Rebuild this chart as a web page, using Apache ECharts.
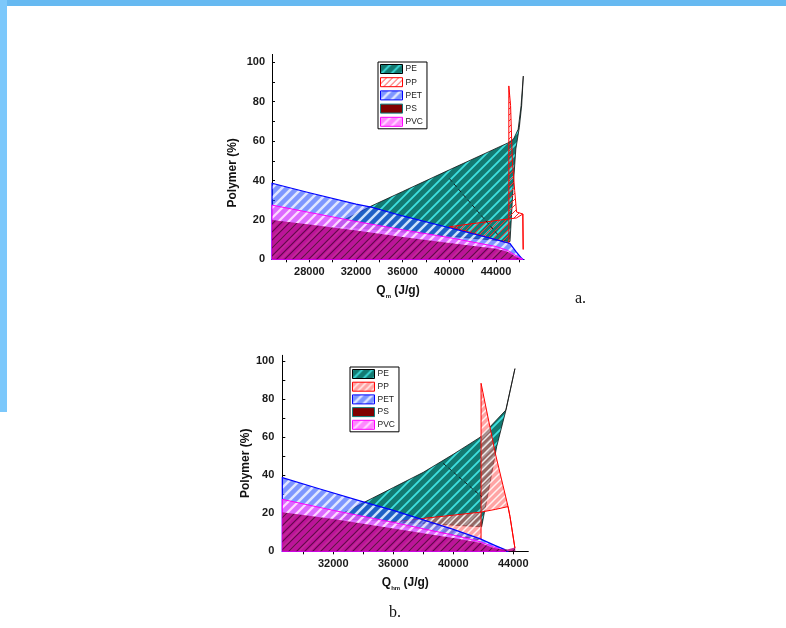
<!DOCTYPE html>
<html>
<head>
<meta charset="utf-8">
<script src="https://cdn.jsdelivr.net/npm/echarts@6/dist/echarts.min.js"></script>
<style>
html, body { margin: 0; padding: 0; background: #fff; }
#chart { width: 786px; height: 628px; }
.topbar { position: absolute; left: 0; top: 0; width: 786px; height: 6px; background: #66b9f1; }
.sidebar { position: absolute; left: 0; top: 0; width: 7px; height: 412px; background: #7cc8fb; }
</style>
</head>
<body>
<div id="chart"></div>
<div class="topbar"></div>
<div class="sidebar"></div>
<script>
// legend order
var names = ['PE', 'PP', 'PET', 'PS', 'PVC'];

// ---- chart a : polygons as [Q, %] points ----
var peA = [[30000,17],[33300,27],[36000,34.4],[40000,45.4],[44000,56.3],[45000,59],[45500,61],[45900,66],[46150,78],[46340,93],
           [46200,78],[46000,67],[45700,56],[45450,35],[45200,9]];
var ppA = [[40000,16.5],[42500,18.5],[45100,20.5],[45100,88],[45250,78],[45400,50],[45600,35],[45760,24],[46300,23],[46330,5],
           [46300,23],[45760,21],[45100,20.5],[45100,8],[42500,12.5]];
var petA = [[24800,38.6],[28000,33.8],[32000,28],[33300,26.5],[36000,22],[40000,16],[44000,10],[45200,8],[45700,4],[46200,0.5],[46300,0],[24800,0]];
var pvcA = [[24800,27.5],[28000,23.8],[32000,19.2],[36000,15],[40000,11],[44000,6.5],[45000,4.5],[45800,1.5],[46300,0],[24800,0]];
var psA = [[24800,20],[28000,17.6],[32000,14.6],[36000,11.3],[40000,8.3],[44000,5.4],[45000,3.8],[45800,1],[46200,0],[24800,0]];
var dashA = [[40000,41],[44300,11.5]];

// ---- chart b ----
var peB = [[32000,17.3],[34000,25.5],[36000,33.5],[38000,41.5],[40000,51],[41800,60],[43500,74.2],[44110,96],
           [43520,74.5],[42890,55],[42400,34],[41890,12.9]];
var ppB = [[35300,14.7],[38000,17.3],[40000,19],[41850,20.6],[41850,88.3],[42800,51.5],[43650,23.5],[43780,18.2],[44110,1.6],
           [43780,18.2],[43650,23.5],[42800,22],[41850,20.6],[41850,5.9],[40000,8.5],[38000,11.5]];
var petB = [[28600,38.7],[31000,33],[34000,26],[36000,21.5],[38000,16.5],[40000,11.5],[41800,6.5],[42800,3],[43400,1],[43600,0],[28600,0]];
var pvcB = [[28600,27.3],[32000,21.5],[36000,15.2],[40000,8.5],[41800,5],[42800,2],[43300,0.5],[43500,0],[28600,0]];
var psB = [[28600,20.5],[32000,17],[36000,12],[40000,7],[41800,4.5],[42450,2.4],[43000,1.2],[43600,1],[44100,2],[44150,0],[28600,0]];
var dashB = [[39330,46.2],[41890,28.7]];

// ticks
var xLabelsA = [28000, 32000, 36000, 40000, 44000];
var xTicksA = [26000, 28000, 30000, 32000, 34000, 36000, 38000, 40000, 42000, 44000, 46000];
var xLabelsB = [32000, 36000, 40000, 44000];
var xTicksB = [30000, 32000, 34000, 36000, 38000, 40000, 42000, 44000];
var yLabels = [0, 20, 40, 60, 80, 100];
var yTicks = [0, 10, 20, 30, 40, 50, 60, 70, 80, 90, 100];

var FONT = 'Liberation Sans, Arial, sans-serif';

function hatch(size, bg, line, lw) {
  var c = document.createElement('canvas');
  c.width = size; c.height = size;
  var ctx = c.getContext('2d');
  ctx.fillStyle = bg;
  ctx.fillRect(0, 0, size, size);
  ctx.strokeStyle = line;
  ctx.lineWidth = lw;
  ctx.beginPath();
  ctx.moveTo(0, size); ctx.lineTo(size, 0);
  ctx.moveTo(-size / 2, size / 2); ctx.lineTo(size / 2, -size / 2);
  ctx.moveTo(size / 2, size * 1.5); ctx.lineTo(size * 1.5, size / 2);
  ctx.stroke();
  return { image: c, repeat: 'repeat' };
}

var fillPE = hatch(10, '#137a72', '#3ee0e0', 1.8);
var fillPPa = hatch(6, 'rgba(255,255,255,0)', '#ff2a2a', 1);
var fillPPb = hatch(7, 'rgba(255,90,90,0.55)', 'rgba(255,255,255,0.85)', 1.5);
var fillPET = hatch(10, 'rgba(40,80,255,0.6)', 'rgba(255,255,255,0.75)', 2.5);
var fillPVC = hatch(10, 'rgba(255,90,255,0.72)', 'rgba(255,255,255,0.7)', 2);
var fillPS = hatch(8, 'rgba(180,0,130,0.82)', 'rgba(60,0,40,0.7)', 1.2);

function poly(name, pts, gi, fill, stroke, lw) {
  return {
    name: name, type: 'custom', coordinateSystem: 'cartesian2d',
    xAxisIndex: gi, yAxisIndex: gi,
    data: pts, encode: { x: 0, y: 1 },
    itemStyle: { color: stroke },
    renderItem: function (params, api) {
      if (params.dataIndex !== 0) return null;
      var p = pts.map(function (d) { return api.coord(d); });
      return { type: 'polygon', shape: { points: p }, style: { fill: fill, stroke: stroke, lineWidth: lw } };
    }
  };
}

function dash(pts, gi) {
  return { type: 'line', xAxisIndex: gi, yAxisIndex: gi, data: pts, symbol: 'none',
           lineStyle: { color: '#111', width: 0.9, type: [4, 3] } };
}

function legendData(ppFill) {
  return [
    { name: 'PE', itemStyle: { color: fillPE, borderColor: '#000', borderWidth: 1 } },
    { name: 'PP', itemStyle: { color: ppFill, borderColor: '#ff0000', borderWidth: 1 } },
    { name: 'PET', itemStyle: { color: fillPET, borderColor: '#0000ff', borderWidth: 1 } },
    { name: 'PS', itemStyle: { color: '#800000', borderColor: '#108080', borderWidth: 1 } },
    { name: 'PVC', itemStyle: { color: fillPVC, borderColor: '#ff00ff', borderWidth: 1 } }
  ];
}

function legend(left, top, gap, ppFill) {
  return {
    left: left, top: top, orient: 'vertical', icon: 'rect',
    itemWidth: 22, itemHeight: 9, itemGap: gap,
    padding: [2, 4, 2, 2], borderColor: '#000', borderWidth: 1,
    selectedMode: false,
    textStyle: { fontSize: 8.5, color: '#222', fontFamily: FONT, padding: [0, 0, 0, -2] },
    data: legendData(ppFill)
  };
}

function plain(v) { return String(v); }

function xAxis(gi, min, max, labels, ticks, sub) {
  return {
    gridIndex: gi, type: 'value', min: min, max: max,
    axisLine: { show: true, onZero: false, lineStyle: { color: '#000', width: 1 } },
    axisTick: { show: true, length: 3, customValues: ticks, lineStyle: { color: '#000' } },
    axisLabel: { customValues: labels, formatter: plain, margin: 7, fontSize: 11, fontWeight: 'bold', color: '#1a1a1a', fontFamily: FONT },
    splitLine: { show: false },
    name: 'Q{s|' + sub + '} (J/g)', nameLocation: 'middle', nameGap: 22,
    nameTextStyle: { fontSize: 12, fontWeight: 'bold', color: '#111', fontFamily: FONT, lineHeight: 18,
      rich: { s: { fontSize: 6, fontWeight: 'bold', color: '#111', verticalAlign: 'bottom', lineHeight: 18, fontFamily: FONT } } }
  };
}

function yAxis(gi, max, gap, shift, margin) {
  return {
    gridIndex: gi, type: 'value', min: 0, max: max,
    axisLine: { show: true, lineStyle: { color: '#000', width: 1 } },
    axisTick: { show: true, inside: true, length: 3, customValues: yTicks, lineStyle: { color: '#000' } },
    axisLabel: { customValues: yLabels, formatter: plain, margin: margin, fontSize: 11, fontWeight: 'bold', color: '#1a1a1a', fontFamily: FONT },
    splitLine: { show: false },
    name: 'Polymer (%)', nameLocation: 'middle', nameGap: gap,
    nameTextStyle: { fontSize: 12, fontWeight: 'bold', color: '#111', fontFamily: FONT, padding: [0, shift, 0, 0] }
  };
}

var myChart = echarts.init(document.getElementById('chart'));
var option = {
  animation: false,
  backgroundColor: '#fff',
  grid: [
    { left: 272, top: 54.4, width: 252, height: 204.9 },
    { left: 282.3, top: 355.3, width: 246, height: 196 }
  ],
  xAxis: [xAxis(0, 24800, 46400, xLabelsA, xTicksA, 'm'), xAxis(1, 28600, 45000, xLabelsB, xTicksB, 'hm')],
  yAxis: [yAxis(0, 104, 33, 32, 7), yAxis(1, 103, 30, 20, 8)],
  legend: [legend(378, 62, 3.2, fillPPa), legend(350, 367, 2.7, fillPPb)],
  graphic: [
    { type: 'text', left: 575, top: 291, style: { text: 'a.', font: '16px Liberation Serif, serif', fill: '#111' } },
    { type: 'text', left: 389, top: 605, style: { text: 'b.', font: '16px Liberation Serif, serif', fill: '#111' } }
  ],
  series: [
    poly('PE', peA, 0, fillPE, '#111', 0.8),
    dash(dashA, 0),
    poly('PP', ppA, 0, fillPPa, '#ff0000', 1),
    poly('PET', petA, 0, fillPET, '#0000ff', 1.2),
    poly('PVC', pvcA, 0, fillPVC, '#ff00ff', 1),
    poly('PS', psA, 0, fillPS, 'rgba(0,0,0,0)', 0),

    poly('PE', peB, 1, fillPE, '#111', 0.8),
    dash(dashB, 1),
    poly('PP', ppB, 1, fillPPb, '#ff0000', 1),
    poly('PET', petB, 1, fillPET, '#0000ff', 1.2),
    poly('PVC', pvcB, 1, fillPVC, '#ff00ff', 1),
    poly('PS', psB, 1, fillPS, 'rgba(0,0,0,0)', 0)
  ]
};
myChart.setOption(option);
</script>
</body>
</html>
